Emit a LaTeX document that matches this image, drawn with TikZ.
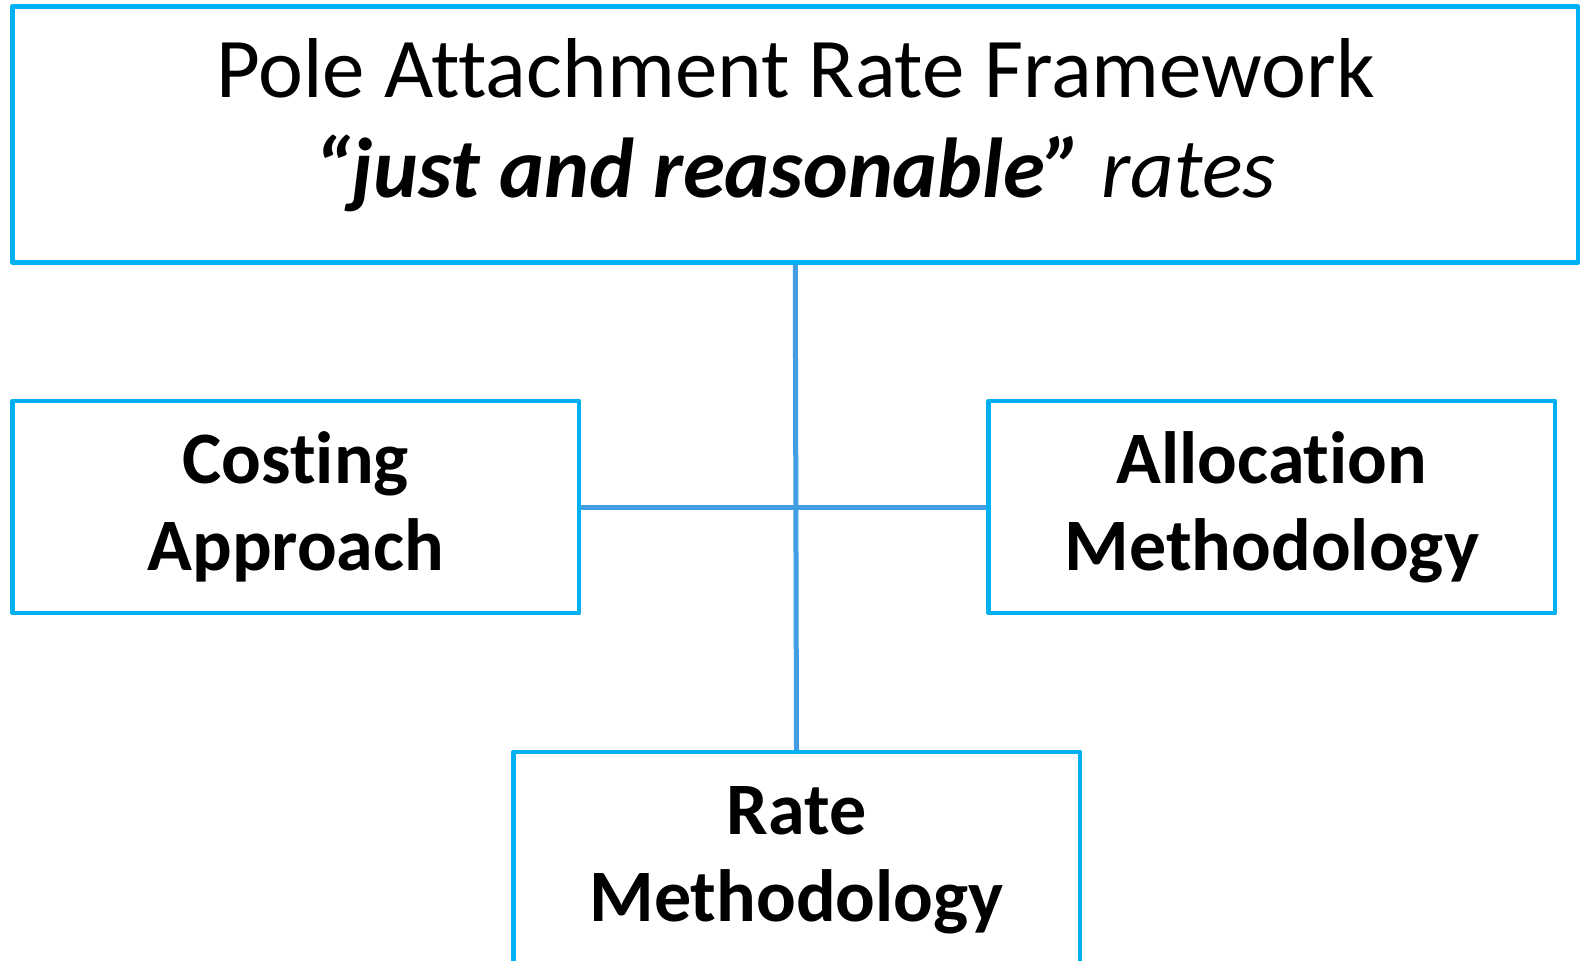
\documentclass[tikz,border=0pt]{standalone}
\usepackage{fontspec}
\setmainfont{Carlito}[Ligatures=NoCommon]
\usetikzlibrary{positioning}
\definecolor{boxcyan}{RGB}{0,176,240}
\definecolor{linkblue}{RGB}{66,157,226}
\tikzstyle{frame}=[draw=boxcyan, line width=4.5pt, line join=round, align=center, inner sep=0pt]
\tikzstyle{sub}=[frame, minimum width=566.5pt, minimum height=212pt, font=\fontsize{74}{87}\selectfont\bfseries]
\tikzstyle{link}=[draw=linkblue, line width=5pt]
% two lines of text with fixed height above and depth below
\newcommand{\twolines}[4]{\rule{0pt}{#3}#1\\#2\rule[-#4]{0pt}{#4}}

\begin{document}
\begin{tikzpicture}[x=1pt, y=-1pt]
  \clip (0,0) rectangle (1580,961);
  \node[frame, minimum width=1565.5pt, minimum height=256pt, font=\fontsize{85}{100}\selectfont] (framework) at (795.25,134.5)
    {\twolines{Pole Attachment Rate Framework}{\textbf{\textit{“just and reasonable”}} \textit{rates}}{70pt}{45pt}};
  \node[sub] (costing) at (295.75,507) {\twolines{Costing}{Approach}{60pt}{21pt}};
  \node[sub] (allocation) at (1271.75,507) {\twolines{Allocation}{Methodology}{60pt}{21pt}};
  \node[sub, minimum height=218pt] (rate) at (796.5,861) {\twolines{Rate}{Methodology}{60pt}{27pt}};
  % connectors
  \draw[link] (framework.south) -- (rate.north);
  \draw[link] (costing.east) -- (allocation.west);
\end{tikzpicture}
\end{document}
